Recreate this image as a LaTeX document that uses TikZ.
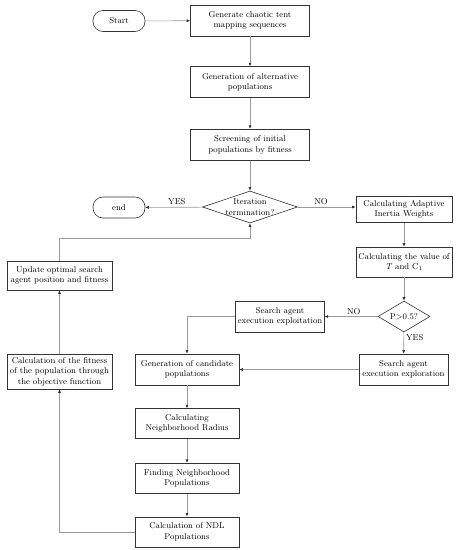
\documentclass[tikz,border=0pt]{standalone}
\usepackage{tikz}
\usetikzlibrary{arrows.meta,positioning,shapes.geometric}
\definecolor{BoxLine}{HTML}{333333}
\definecolor{FlowGray}{HTML}{9A9A9A}

\begin{document}
\begin{tikzpicture}[
  x=1pt, y=-1pt,
  node distance=30pt and 40pt,
  box/.style={draw=BoxLine, line width=0.6pt, align=center, minimum height=30pt, inner sep=2pt, fill=white, font=\fontsize{8.5}{10.5}\selectfont},
  mainbox/.style={box, minimum width=119pt, minimum height=31pt},
  colbox/.style={box, minimum width=104pt},
  term/.style={box, rounded corners=10pt, minimum width=52pt, minimum height=21pt},
  decision/.style={box, diamond, shape aspect=3, inner sep=-3pt},
  arrow/.style={-{Latex[length=3.5pt,width=3pt,color=BoxLine]}, line width=0.6pt, draw=FlowGray},
  lab/.style={font=\fontsize{8.5}{10}\selectfont, inner sep=2pt}
]
\useasboundingbox (0,0) rectangle (457,550);

% main column
\node[term] (start) at (119,21) {Start};
\node[mainbox] (chaos) at (250,20.5) {Generate chaotic tent\\mapping sequences};
\node[mainbox, below=of chaos] (alter) {Generation of alternative\\populations};
\node[mainbox, below=31pt of alter] (screen) {Screening of initial\\populations by fitness};
\node[decision, minimum width=95pt, minimum height=32pt] (iter) at (250,207) {Iteration\\termination?};
\node[term] (finish) at (119,207.5) {end};

% right branch
\node[box, minimum width=96pt, minimum height=26pt] (inertia) at (404,209.5) {Calculating Adaptive\\Inertia Weights};
\node[box, minimum width=96pt] (tcval) at (404,262) {Calculating the value of\\\textit{T} and C\textsubscript{1}};
\node[decision, shape aspect=1.7, inner sep=0pt, minimum width=52pt, minimum height=31pt] (prob) at (404,316.5) {P>0.5?};
\node[box, minimum width=88pt, minimum height=31pt] (exploit) at (280,316.5) {Search agent\\execution exploitation};
\node[box, minimum width=89pt, minimum height=31pt] (explore) at (403.5,369.5) {Search agent\\execution exploration};

% neighborhood column
\node[colbox, minimum height=31pt] (cand) at (187,369.5) {Generation of candidate\\populations};
\node[colbox, below=23pt of cand] (radius) {Calculating\\Neighborhood Radius};
\node[colbox, below=24pt of radius] (neigh) {Finding Neighborhood\\Populations};
\node[colbox, below=23pt of neigh] (ndl) {Calculation of NDL\\Populations};

% left column
\node[box, minimum width=105pt, minimum height=35pt] (fitness) at (59.5,371.5) {Calculation of the fitness\\of the population through\\the objective function};
\node[box, minimum width=105pt, minimum height=29pt] (update) at (59.5,275.5) {Update optimal search\\agent position and fitness};
\coordinate (back) at (59.5,238);

\draw[arrow] (start) -- (chaos);
\draw[arrow] (chaos) -- (alter);
\draw[arrow] (alter) -- (screen);
\draw[arrow] (screen) -- (iter);
\draw[arrow] (iter) -- node[lab, above, pos=0.45] {YES} (finish);
\draw[arrow] (iter.east) -- node[lab, above, pos=0.4] {NO} (iter.east -| inertia.west);
\draw[arrow] (inertia) -- (tcval);
\draw[arrow] (tcval) -- (prob);
\draw[arrow] (prob) -- node[lab, above, pos=0.45] {NO} (exploit);
\draw[arrow] (prob) -- node[lab, right, pos=0.25] {YES} (explore);
\draw[arrow] (exploit.west) -| (cand.north);
\draw[arrow] (explore) -- (cand);
\draw[arrow] (cand) -- (radius);
\draw[arrow] (radius) -- (neigh);
\draw[arrow] (neigh) -- (ndl);
\draw[arrow] (ndl.west) -| (fitness.south);
\draw[arrow] (fitness) -- (update);
\draw[arrow] (update.north) -- (back) -| (iter.south);
\end{tikzpicture}
\end{document}
